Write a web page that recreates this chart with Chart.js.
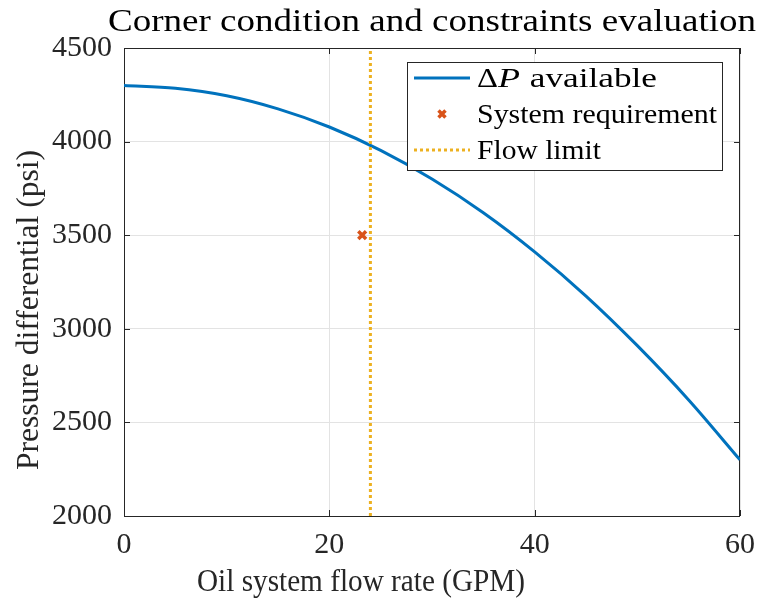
<!DOCTYPE html>
<html>
<head>
<meta charset="utf-8">
<script src="https://cdn.jsdelivr.net/npm/chart.js@4"></script>
<style>
  html, body { margin: 0; padding: 0; background: #fff; }
  #wrap { width: 759px; height: 600px; }
</style>
</head>
<body>
<div id="wrap"><canvas id="chart" width="759" height="600"></canvas></div>
<script>
// values
const flowRates = [0, 5, 10, 15, 20, 25, 30, 35, 40, 45, 50, 55, 60];
const pressureAvail = [4300, 4285, 4245, 4175, 4078, 3953, 3800, 3620, 3411, 3175, 2910, 2620, 2300];
const requirementFlow = [23.2];
const requirementPressure = [3500];
const flowLimit = 24;
const xTicks = [0, 20, 40, 60];
const yTicks = [2000, 2500, 3000, 3500, 4000, 4500];

const BLUE = '#0072BD';
const ORANGE = '#D95319';
const YELLOW = '#EDB120';
const AXIS = '#262626';
const SERIF = "'Liberation Serif', 'DejaVu Serif', serif";

// draw text stretched horizontally to a target width (CM is wider than Times)
function fitText(ctx, text, x, y, size, width, align, style) {
    ctx.save();
    ctx.font = (style || '') + ' ' + size + 'px ' + SERIF;
    const w = ctx.measureText(text).width;
    const sx = width ? width / w : 1;
    ctx.translate(x, y);
    ctx.scale(sx, 1);
    ctx.textAlign = align || 'center';
    ctx.fillText(text, 0, 0);
    ctx.restore();
    return w * sx;
}

const decorations = {
    id: 'decorations',
    beforeDatasetsDraw(chart) {
        const ctx = chart.ctx;
        const a = chart.chartArea;
        const xs = chart.scales.x, ys = chart.scales.y;
        ctx.save();
        ctx.strokeStyle = AXIS;
        ctx.lineWidth = 1;
        ctx.strokeRect(Math.round(a.left) + 0.5, Math.round(a.top) + 0.5,
            Math.round(a.right - a.left) - 1, Math.round(a.bottom - a.top));
        // inward ticks on all four sides
        ctx.beginPath();
        xTicks.forEach(v => {
            const px = Math.round(xs.getPixelForValue(v)) + 0.5;
            ctx.moveTo(px, a.bottom); ctx.lineTo(px, a.bottom - 6);
            ctx.moveTo(px, a.top); ctx.lineTo(px, a.top + 6);
        });
        yTicks.forEach(v => {
            const py = Math.round(ys.getPixelForValue(v)) + 0.5;
            ctx.moveTo(a.left, py); ctx.lineTo(a.left + 6, py);
            ctx.moveTo(a.right, py); ctx.lineTo(a.right - 6, py);
        });
        ctx.stroke();
        ctx.restore();
    },
    afterDraw(chart) {
        const ctx = chart.ctx;
        ctx.save();
        ctx.fillStyle = '#000';
        ctx.textBaseline = 'alphabetic';
        // title
        fitText(ctx, 'Corner condition and constraints evaluation', 432, 31, 31, 648);
        // axis titles
        ctx.fillStyle = '#262626';
        fitText(ctx, 'Oil system flow rate (GPM)', 361, 591, 31, 328);
        ctx.save();
        ctx.translate(38, 310);
        ctx.rotate(-Math.PI / 2);
        fitText(ctx, 'Pressure differential (psi)', 0, 0, 31, 320);
        ctx.restore();

        // legend
        const L = 407.5, T = 62.5, R = 722.5, B = 170.5;
        ctx.fillStyle = '#fff';
        ctx.fillRect(L, T, R - L, B - T);
        ctx.strokeStyle = AXIS;
        ctx.lineWidth = 1;
        ctx.strokeRect(L, T, R - L, B - T);
        const rows = [78, 114, 150];
        ctx.lineWidth = 3;
        ctx.strokeStyle = BLUE;
        ctx.beginPath(); ctx.moveTo(414, rows[0]); ctx.lineTo(470, rows[0]); ctx.stroke();
        ctx.strokeStyle = ORANGE;
        ctx.lineWidth = 3.5;
        ctx.beginPath();
        ctx.moveTo(438.5, rows[1] - 3.5); ctx.lineTo(445.5, rows[1] + 3.5);
        ctx.moveTo(445.5, rows[1] - 3.5); ctx.lineTo(438.5, rows[1] + 3.5);
        ctx.stroke();
        ctx.lineWidth = 3;
        ctx.strokeStyle = YELLOW;
        ctx.setLineDash([3, 3]);
        ctx.beginPath(); ctx.moveTo(414, rows[2]); ctx.lineTo(470, rows[2]); ctx.stroke();
        ctx.setLineDash([]);

        ctx.fillStyle = '#000';
        let x = 477;
        x += fitText(ctx, '\u0394', x, rows[0] + 9, 27, 21, 'left');
        x += fitText(ctx, 'P', x, rows[0] + 9, 27, 22, 'left', 'italic');
        fitText(ctx, ' available', x + 1, rows[0] + 9, 27, 136, 'left');
        fitText(ctx, 'System requirement', 477, rows[1] + 9, 27, 240, 'left');
        fitText(ctx, 'Flow limit', 477, rows[2] + 9, 27, 124, 'left');
        ctx.restore();
    }
};

new Chart(document.getElementById('chart').getContext('2d'), {
    type: 'line',
    data: {
        datasets: [
            {
                label: 'ΔP available',
                data: flowRates.map((q, i) => ({x: q, y: pressureAvail[i]})),
                borderColor: BLUE,
                borderWidth: 3,
                pointRadius: 0,
                cubicInterpolationMode: 'monotone',
                order: 3
            },
            {
                label: 'System requirement',
                data: requirementFlow.map((q, i) => ({x: q, y: requirementPressure[i]})),
                showLine: false,
                pointStyle: 'cross',
                rotation: 45,
                pointRadius: 5.5,
                pointBorderWidth: 3.5,
                pointBorderColor: ORANGE,
                pointBackgroundColor: ORANGE,
                borderColor: ORANGE,
                order: 1
            },
            {
                label: 'Flow limit',
                data: [{x: flowLimit, y: 2000}, {x: flowLimit, y: 4500}],
                borderColor: YELLOW,
                borderWidth: 3,
                borderDash: [3, 3],
                pointRadius: 0,
                order: 2
            }
        ]
    },
    options: {
        responsive: false,
        animation: false,
        layout: { padding: { top: 48, right: 19, left: 0, bottom: 0 } },
        plugins: {
            legend: { display: false },
            title: { display: false },
            tooltip: { enabled: false }
        },
        scales: {
            x: {
                type: 'linear',
                min: 0, max: 60,
                afterFit: s => { s.height = 84; s.paddingLeft = 0; s.paddingRight = 0; },
                afterBuildTicks: s => { s.ticks = xTicks.map(v => ({value: v})); },
                grid: { color: '#e3e3e3', drawTicks: false },
                border: { display: false },
                ticks: {
                    padding: 11,
                    color: '#262626',
                    font: { family: SERIF, size: 30 },
                    maxRotation: 0,
                    callback: v => String(v)
                }
            },
            y: {
                type: 'linear',
                min: 2000, max: 4500,
                afterFit: s => { s.width = 124; s.paddingTop = 0; s.paddingBottom = 0; },
                afterBuildTicks: s => { s.ticks = yTicks.map(v => ({value: v})); },
                grid: { color: '#e3e3e3', drawTicks: false },
                border: { display: false },
                ticks: {
                    padding: 12,
                    color: '#262626',
                    font: { family: SERIF, size: 30 },
                    callback: v => String(v)
                }
            }
        }
    },
    plugins: [decorations]
});
</script>
</body>
</html>
